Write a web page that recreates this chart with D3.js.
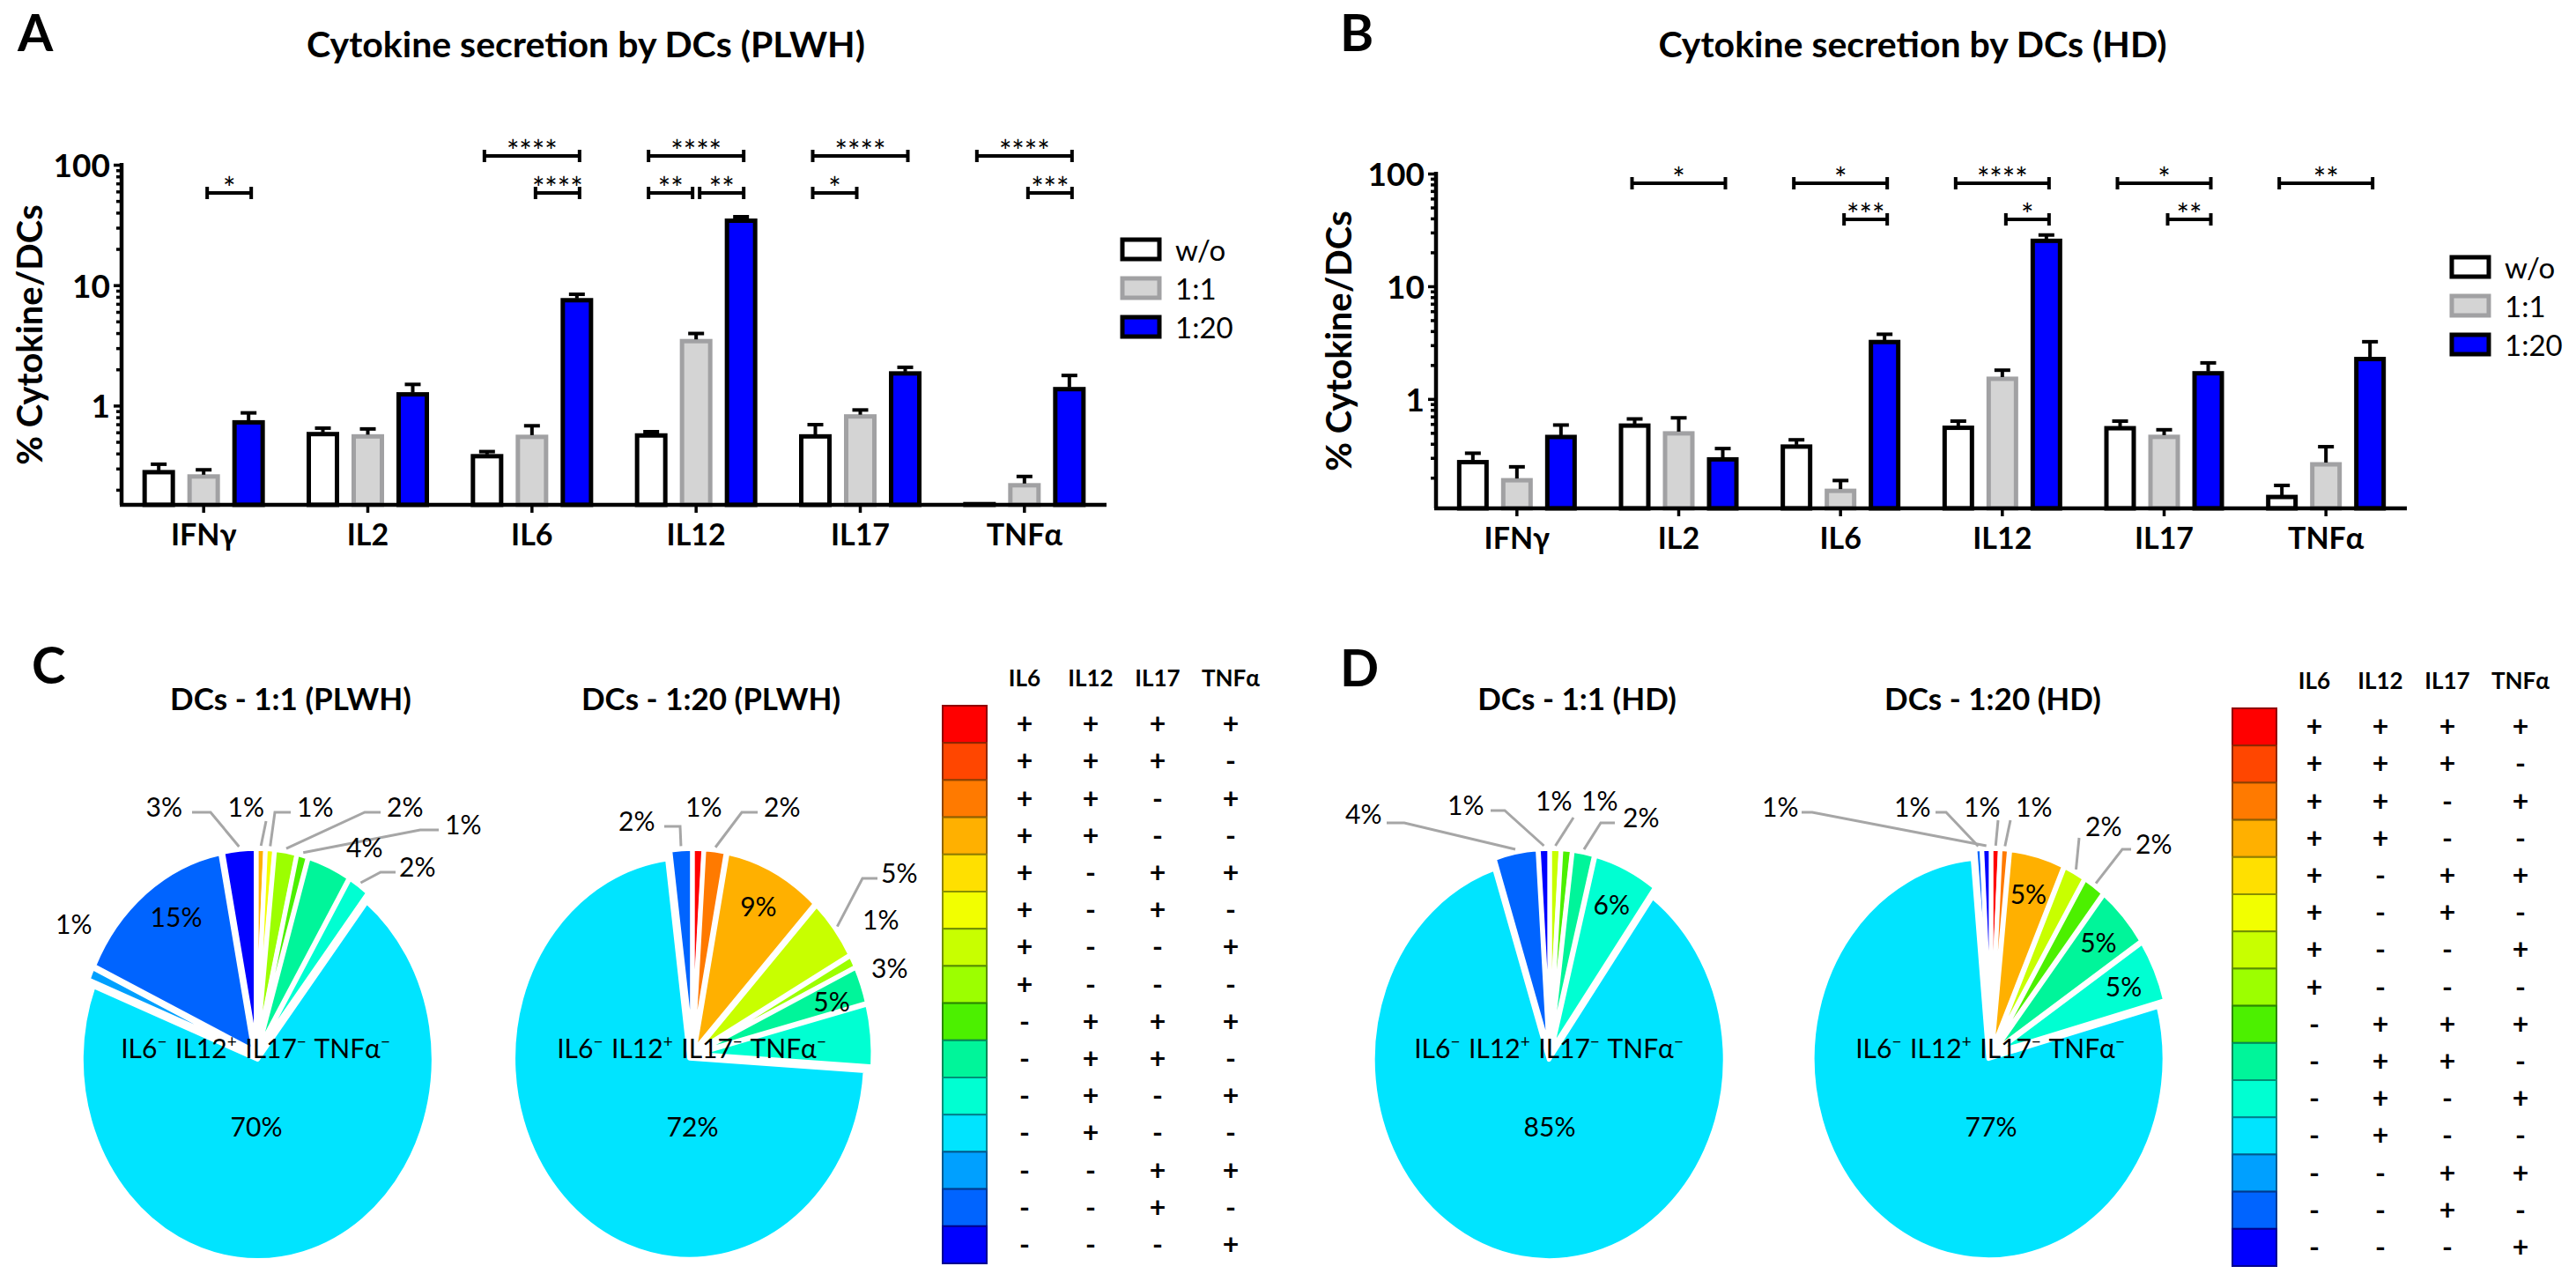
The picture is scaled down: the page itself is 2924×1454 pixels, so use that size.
<!DOCTYPE html>
<html>
<head>
<meta charset="utf-8">
<script src="https://cdn.jsdelivr.net/npm/d3@7/dist/d3.min.js"></script>
<style>
  body { margin: 0; background: #fff; }
  svg text { font-family: Lato, "Open Sans", sans-serif; fill: #000; white-space: pre; }
</style>
</head>
<body>
<script>
// cytokine secretion by DCs: bar panels A/B, polyfunctional pies C/D

var cytokines = ["IFNγ", "IL2", "IL6", "IL12", "IL17", "TNFα"];
var conditions = ["w/o", "1:1", "1:20"];
var majorTicks = [1, 10, 100];

// PLWH - mean and top of error bar
var plwhWo     = [0.28, 0.58, 0.38, 0.565, 0.555, 0.152];
var plwhWoTop  = [0.326, 0.65, 0.415, 0.607, 0.695, 0.152];
var plwh11     = [0.258, 0.555, 0.55, 3.43, 0.813, 0.218];
var plwh11Top  = [0.293, 0.64, 0.68, 3.97, 0.92, 0.258];
var plwh120    = [0.726, 1.24, 7.5, 34.3, 1.85, 1.37];
var plwh120Top = [0.87, 1.5, 8.4, 37, 2.08, 1.78];

// HD
var hdWo     = [0.275, 0.58, 0.378, 0.555, 0.55, 0.135];
var hdWoTop  = [0.33, 0.665, 0.434, 0.636, 0.636, 0.171];
var hd11     = [0.19, 0.495, 0.153, 1.51, 0.461, 0.263];
var hd11Top  = [0.25, 0.68, 0.189, 1.8, 0.533, 0.377];
var hd120    = [0.46, 0.291, 3.2, 25.3, 1.69, 2.26];
var hd120Top = [0.587, 0.363, 3.75, 28.5, 2.09, 3.22];

// significance: [cytokine, from cond, to cond, level, stars]
var sigPlwh = [[0,1,2,1,"*"],[2,0,2,0,"****"],[2,1,2,1,"****"],[3,0,2,0,"****"],[3,0,1,1,"**"],
               [3,1,2,1,"**"],[4,0,2,0,"****"],[4,0,1,1,"*"],[5,0,2,0,"****"],[5,1,2,1,"***"]];
var sigHd = [[1,0,2,0,"*"],[2,0,2,0,"*"],[2,1,2,1,"***"],[3,0,2,0,"****"],[3,1,2,1,"*"],
             [4,0,2,0,"*"],[4,1,2,1,"**"],[5,0,2,0,"**"]];

// boolean combinations (IL6, IL12, IL17, TNFα) and their colours
var comboHeader = ["IL6", "IL12", "IL17", "TNFα"];
var comboSigns = [
  "++++", "+++-", "++-+", "++--", "+-++", "+-+-", "+--+", "+---",
  "-+++", "-++-", "-+-+", "-+--", "--++", "--+-", "---+"
];
var comboColors = ["#ff0000", "#ff4600", "#ff7a00", "#ffb000", "#ffe000", "#f2ff00", "#c8ff00", "#9cff00",
                   "#4cf000", "#00f59a", "#00ffd2", "#00e4ff", "#00a0ff", "#0064ff", "#0000ff"];

// pie fractions (%) in combination order
var pieC1 = [0, 0, 0, 0.8, 0, 0.8, 0, 2, 1, 4, 2, 70, 1, 15, 3];
var pieC2 = [1, 0, 2, 9, 0, 0, 5, 1, 0, 3, 5, 72, 0, 2, 0];
var pieD1 = [0, 0, 0, 0, 0, 0, 1, 0, 1, 2, 6, 85, 0, 4, 1];
var pieD2 = [0.8, 0, 0.8, 5, 0, 0, 2, 0, 2, 5, 5, 77, 0, 0.6, 0.8];

var W = 2924, H = 1454;
var svg = d3.select("body").append("svg").attr("width", W).attr("height", H);

var condStyle = [
  {fill: "#ffffff", stroke: "#000000"},
  {fill: "#d4d4d4", stroke: "#a1a1a3"},
  {fill: "#0000ff", stroke: "#000000"}
];

function minorTicks(lo, hi) {
  var t = [];
  for (var e = -1; e <= 2; e++) {
    for (var k = 1; k <= 9; k++) {
      var v = k * Math.pow(10, e);
      if (v >= lo - 1e-9 && v <= hi + 1e-9) t.push(+v.toPrecision(3));
    }
  }
  return t;
}

function barPanel(p) {
  var x = d3.scaleBand().domain(cytokines).range([p.x0, p.x1]);
  var y = d3.scaleLog().domain([p.min, 100]).range([p.base, p.top]);
  var g = svg.append("g");
  var cx = function(i, k) { return x(cytokines[i]) + x.bandwidth() / 2 + (k - 1) * p.step; };

  p.series.forEach(function(s, k) {
    g.append("g").selectAll("rect").data(s.mean).enter().append("rect")
      .attr("x", function(d, i) { return cx(i, k) - p.bw / 2; })
      .attr("y", function(d) { return y(d); })
      .attr("width", p.bw)
      .attr("height", function(d) { return Math.max(0.5, p.base - y(d)); })
      .attr("fill", condStyle[k].fill)
      .attr("stroke", condStyle[k].stroke)
      .attr("stroke-width", 5);
    var eb = g.append("g").attr("stroke", "#000").attr("stroke-width", 4);
    s.top.forEach(function(t, i) {
      if (t <= s.mean[i]) return;
      eb.append("line").attr("x1", cx(i, k)).attr("x2", cx(i, k))
        .attr("y1", y(s.mean[i]) - 2).attr("y2", y(t));
      eb.append("line").attr("x1", cx(i, k) - 9).attr("x2", cx(i, k) + 9)
        .attr("y1", y(t)).attr("y2", y(t));
    });
  });

  // y axis (log)
  var ticks = minorTicks(p.min, 100);
  var ya = g.append("g").attr("transform", "translate(" + p.x0 + ",0)")
    .call(d3.axisLeft(y).tickValues(ticks).tickSizeOuter(0).tickSize(6).tickPadding(6)
      .tickFormat(function(d) { return majorTicks.indexOf(d) >= 0 ? d : ""; }));
  ya.select(".domain").attr("stroke-width", 4.5).attr("d", "M0," + p.base + "V" + (p.top - 2));
  ya.selectAll(".tick line").attr("stroke-width", 3.5)
    .attr("x2", function(d) { return majorTicks.indexOf(d) >= 0 ? -9 : -6; });
  ya.selectAll(".tick text").attr("font-family", "Lato").attr("font-weight", 700)
    .attr("font-size", 37).attr("x", -13).attr("dy", "0.36em");

  // x axis
  var xa = g.append("g").attr("transform", "translate(0," + p.base + ")")
    .call(d3.axisBottom(x).tickSizeOuter(0).tickSize(9).tickPadding(13));
  xa.select(".domain").attr("stroke-width", 4.5).attr("d", "M" + (p.x0 - 2) + ",0H" + p.x1);
  xa.selectAll(".tick line").attr("stroke-width", 3.5);
  xa.selectAll(".tick text").attr("font-family", "Lato").attr("font-weight", 700).attr("font-size", 34);

  g.append("text")
    .attr("transform", "translate(" + p.ylabX + "," + ((p.base + p.top) / 2) + ") rotate(-90)")
    .attr("text-anchor", "middle").attr("font-weight", 700).attr("font-size", 40)
    .text("% Cytokine/DCs");

  // significance brackets
  var br = g.append("g");
  p.sig.forEach(function(s) {
    var x1 = cx(s[0], s[1]) + (s[1] === 1 ? 4 : -3);
    var x2 = cx(s[0], s[2]) + (s[2] === 1 ? -4 : 3);
    var by = p.sigY[s[3]];
    br.append("path")
      .attr("d", "M" + x1 + "," + (by - 7) + "V" + (by + 7) + "M" + x1 + "," + by + "H" + x2 +
                 "M" + x2 + "," + (by - 7) + "V" + (by + 7))
      .attr("stroke", "#000").attr("stroke-width", 4).attr("fill", "none");
    br.append("text").attr("x", (x1 + x2) / 2).attr("y", by + 7)
      .attr("text-anchor", "middle").attr("font-size", 34).text(s[4]);
  });

  // legend
  var lg = g.append("g");
  conditions.forEach(function(c, k) {
    var ly = p.legY[k];
    lg.append("rect").attr("x", p.legX).attr("y", ly - 12).attr("width", 42).attr("height", 22)
      .attr("fill", condStyle[k].fill).attr("stroke", condStyle[k].stroke).attr("stroke-width", 5);
    lg.append("text").attr("x", p.legX + 60).attr("y", ly + 12).attr("font-size", 33).text(c);
  });

  svg.append("text").attr("x", p.titleX).attr("y", 65).attr("text-anchor", "middle")
    .attr("font-weight", 700).attr("font-size", 41).text(p.title);
}

barPanel({
  x0: 138, x1: 1256, base: 573, top: 187, min: 0.15, step: 51, bw: 32, ylabX: 48,
  series: [{mean: plwhWo, top: plwhWoTop}, {mean: plwh11, top: plwh11Top}, {mean: plwh120, top: plwh120Top}],
  sig: sigPlwh, sigY: [177, 219], legX: 1274, legY: [284, 328, 372],
  title: "Cytokine secretion by DCs (PLWH)", titleX: 665
});
barPanel({
  x0: 1630, x1: 2732, base: 577, top: 197, min: 0.107, step: 50, bw: 31, ylabX: 1534,
  series: [{mean: hdWo, top: hdWoTop}, {mean: hd11, top: hd11Top}, {mean: hd120, top: hd120Top}],
  sig: sigHd, sigY: [208, 249], legX: 2783, legY: [304, 348, 392],
  title: "Cytokine secretion by DCs (HD)", titleX: 2171
});

// panel letters
[["A", 20, 58], ["B", 1521, 58], ["C", 36, 776], ["D", 1521, 779]].forEach(function(l) {
  svg.append("text").attr("x", l[1]).attr("y", l[2]).attr("font-weight", 700)
    .attr("font-size", 58).text(l[0]);
});

// ---- pies (slightly taller than wide, slices pulled apart a little) ----
var R = 200, KY = 1.14, EXPL = 5;
var arc = d3.arc().innerRadius(0).outerRadius(R);
var pie = d3.pie().sort(null).value(function(d) { return d; });

function pctText(v) { return Math.max(1, Math.round(v)) + "%"; }

function drawPie(p) {
  var arcs = pie(p.values);
  arcs.forEach(function(a, i) { a.row = i; a.mid = (a.startAngle + a.endAngle) / 2; });
  var shown = arcs.filter(function(a) { return a.value > 0; });

  var gs = svg.append("g").attr("transform", "translate(" + p.cx + "," + p.cy + ") scale(1," + KY + ")");
  gs.selectAll("path").data(shown).enter().append("path")
    .attr("d", arc)
    .attr("transform", function(a) {
      return "translate(" + (Math.sin(a.mid) * EXPL) + "," + (-Math.cos(a.mid) * EXPL) + ")";
    })
    .attr("fill", function(a) { return comboColors[a.row]; })
    .attr("stroke", "#fff").attr("stroke-width", 5).attr("stroke-linejoin", "round")
    .attr("vector-effect", "non-scaling-stroke");

  // labels are laid out from an origin at (cx, ly)
  var g = svg.append("g").attr("transform", "translate(" + p.cx + "," + p.ly + ")");
  var dy0 = p.cy - p.ly;
  var ell = function(a, rr) { return [Math.sin(a.mid) * rr, -Math.cos(a.mid) * rr * KY + dy0]; };

  shown.forEach(function(a) {
    var lab = p.labels[a.row];
    if (a.row === 11) {
      var t = g.append("text").attr("x", 0).attr("y", 33).attr("text-anchor", "middle").attr("font-size", 30);
      [["IL6", "−"], [" IL12", "+"], [" IL17", "−"], [" TNFα", "−"]].forEach(function(s) {
        t.append("tspan").attr("dy", 0).text(s[0]);
        t.append("tspan").attr("dy", -12).attr("font-size", 19).text(s[1]);
        t.append("tspan").attr("dy", 12).attr("font-size", 30).text("\u200a");
      });
      g.append("text").attr("x", 0).attr("y", 122).attr("text-anchor", "middle")
        .attr("font-size", 30).text(pctText(a.value));
      return;
    }
    if (!lab) return;
    if (lab.k) {
      var c = ell(a, EXPL + R * lab.k);
      g.append("text").attr("x", c[0]).attr("y", c[1] + 11).attr("text-anchor", "middle")
        .attr("font-size", 30).text(pctText(a.value));
      return;
    }
    g.append("text").attr("x", lab.t[0]).attr("y", lab.t[1]).attr("text-anchor", lab.a || "start")
      .attr("font-size", 30).text(pctText(a.value));
    if (lab.l) {
      var pts = lab.l.concat([ell(a, R + EXPL + 3)]);
      g.append("path").attr("d", d3.line()(pts)).attr("fill", "none")
        .attr("stroke", "#a6a6a6").attr("stroke-width", 3);
    }
  });

  svg.append("text").attr("x", p.titleX).attr("y", 806).attr("text-anchor", "middle")
    .attr("font-weight", 700).attr("font-size", 35).text(p.title);
}

drawPie({
  cx: 291, cy: 1197, ly: 1168, values: pieC1, title: "DCs - 1:1 (PLWH)", titleX: 330,
  labels: {
    14: {t: [-84, -241], a: "end", l: [[-73, -246], [-52, -246]]},
    3: {t: [9, -241], a: "end", l: [[11, -236]]},
    5: {t: [46, -241], l: [[39, -246], [21, -246]]},
    7: {t: [148, -241], l: [[141, -246], [123, -246]]},
    8: {t: [214, -221], l: [[207, -226], [186, -226]]},
    9: {t: [102, -195]},
    10: {t: [162, -173], l: [[158, -178], [141, -178]]},
    12: {t: [-228, -108]},
    13: {t: [-91, -116], a: "middle"}
  }
});
drawPie({
  cx: 786, cy: 1197, ly: 1168, values: pieC2, title: "DCs - 1:20 (PLWH)", titleX: 807,
  labels: {
    13: {t: [-84, -225], l: [[-32, -230], [-14, -230]]},
    0: {t: [-8, -241]},
    2: {t: [81, -241], l: [[74, -246], [56, -246]]},
    3: {k: 0.8},
    6: {t: [214, -166], l: [[210, -171], [193, -171]]},
    7: {t: [193, -113]},
    9: {t: [203, -58]},
    10: {t: [158, -20], a: "middle"}
  }
});
drawPie({
  cx: 1759, cy: 1197, ly: 1168, values: pieD1, title: "DCs - 1:1 (HD)", titleX: 1790,
  labels: {
    13: {t: [-232, -233], l: [[-185, -234], [-165, -234]]},
    14: {t: [-116, -243], l: [[-67, -248], [-51, -248]]},
    6: {t: [-16, -248], l: [[27, -240]]},
    8: {t: [36, -248]},
    9: {t: [83, -229], l: [[74, -234], [58, -234]]},
    10: {k: 0.8}
  }
});
drawPie({
  cx: 2260, cy: 1197, ly: 1168, values: pieD2, title: "DCs - 1:20 (HD)", titleX: 2262,
  labels: {
    14: {t: [-260, -241], l: [[-215, -246], [-203, -246]]},
    13: {t: [-110, -241], l: [[-63, -246], [-51, -246]]},
    0: {t: [-31, -241], l: [[8, -237]]},
    2: {t: [28, -241], l: [[22, -237]]},
    6: {t: [107, -219], l: [[100, -217]]},
    8: {t: [164, -199], l: [[159, -204], [149, -204]]},
    3: {k: 0.8}, 9: {k: 0.8}, 10: {k: 0.8}
  }
});

// combination legends
function comboLegend(x0, y0) {
  var rowH = 42.2, cols = [43, 118, 194, 277];
  var g = svg.append("g");
  var yb = d3.scaleBand().domain(d3.range(comboSigns.length)).range([y0, y0 + rowH * comboSigns.length]);
  g.selectAll("rect").data(comboColors).enter().append("rect")
    .attr("x", x0).attr("y", function(d, i) { return yb(i); })
    .attr("width", 50).attr("height", yb.bandwidth())
    .attr("fill", function(d) { return d; })
    .attr("stroke", function(d) { return d3.color(d).darker(1.6); }).attr("stroke-width", 2);
  comboHeader.forEach(function(h, j) {
    g.append("text").attr("x", x0 + 50 + cols[j]).attr("y", y0 - 22).attr("text-anchor", "middle")
      .attr("font-weight", 700).attr("font-size", 26).text(h);
  });
  comboSigns.forEach(function(s, i) {
    s.split("").forEach(function(ch, j) {
      g.append("text").attr("x", x0 + 50 + cols[j]).attr("y", yb(i) + yb.bandwidth() / 2 + 11)
        .attr("text-anchor", "middle").attr("font-weight", 700).attr("font-size", 32)
        .text(ch === "+" ? "+" : "-");
    });
  });
}
comboLegend(1070, 801);
comboLegend(2534, 804);
</script>
</body>
</html>
